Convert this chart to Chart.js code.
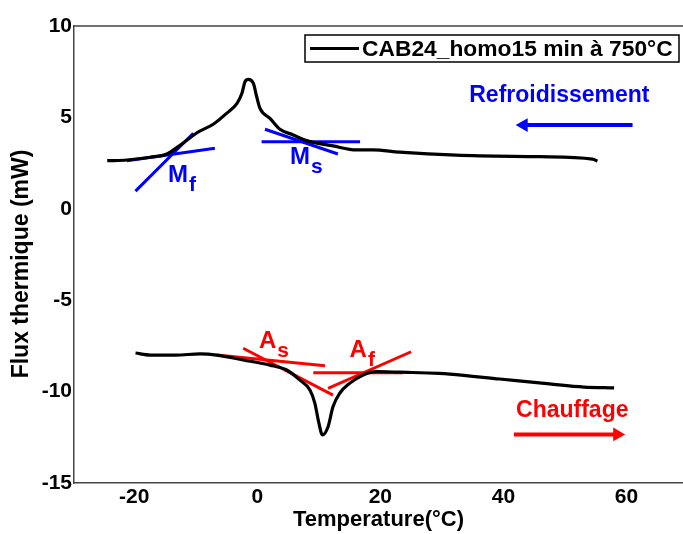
<!DOCTYPE html>
<html>
<head>
<meta charset="utf-8">
<script src="https://cdn.jsdelivr.net/npm/chart.js@4/dist/chart.umd.min.js"></script>
<style>
html,body{margin:0;padding:0;background:#fff;}
#wrap{width:683px;height:534px;position:relative;}
</style>
</head>
<body>
<div id="wrap"><canvas id="c" width="683" height="534"></canvas></div>
<script>
// ---- data ----
const seriesLabel = "CAB24_homo15 min à 750°C";
// cooling curve (Refroidissement)
const coolT = [-24.4,-21.2,-17.4,-14.7,-12.5,-9.8,-7.1,-5.0,-3.3,-2.5,-2.0,-1.46,-0.65,-0.1,0.44,2.06,3.68,5.84,8.01,12.3,16.1,18.8,23.1,32.3,45.9,54.5,55.3];
const coolF = [2.63,2.67,2.82,3.0,3.49,4.16,4.64,5.22,5.77,6.32,6.95,7.08,6.87,6.13,5.49,4.95,4.35,4.04,3.73,3.44,3.22,3.22,3.1,2.94,2.85,2.72,2.61];
// heating curve (Chauffage)
const heatT = [-19.8,-17.4,-13.3,-9.3,-6.6,-2.3,2.06,4.77,6.93,8.55,9.36,9.9,10.6,11.5,12.3,13.4,15.0,17.2,19.4,23.1,29.6,31.3,39.4,47.5,53.1,58.0];
const heatF = [-7.89,-8.0,-8.0,-7.94,-8.0,-8.27,-8.55,-8.82,-9.37,-9.91,-10.64,-11.55,-12.37,-11.92,-10.83,-10.09,-9.55,-9.09,-8.91,-8.94,-9.0,-9.04,-9.31,-9.58,-9.75,-9.8];
// tangent construction lines [x0,x1], [y0,y1]
const mfSteepT = [-19.8,-10.4], mfSteepF = [0.97,4.13];
const mfFlatT  = [-21.2,-6.9],  mfFlatF  = [2.63,3.31];
const msFlatT  = [0.7,16.7],    msFlatF  = [3.67,3.67];
const msSlopeT = [1.25,13.1],   msSlopeF = [4.35,3.0];
const asFlatT  = [-6.6,11.0],   asFlatF  = [-8.0,-8.58];
const asSteepT = [-2.3,12.3],   asSteepF = [-7.63,-10.19];
const afFlatT  = [9.1,23.7],    afFlatF  = [-8.97,-8.97];
const afSteepT = [11.5,25.0],   afSteepF = [-9.82,-7.82];
// direction arrows
const coolArrowT = [61.0,43.3], coolArrowF = [4.58,4.58];
const heatArrowT = [41.7,58.5], heatArrowF = [-12.34,-12.34];
// axis ticks
const xTicks = [-20,0,20,40,60];
const yTicks = [-15,-10,-5,0,5,10];
// annotation texts
const annotMain = ["M","M","A","A"];
const annotSub  = ["f","s","s","f"];
const annotX    = [-14.5,5.3,0.28,15.0];
const annotY    = [1.47,2.45,-7.61,-8.11];
const annotColor= ["#0000ff","#0000ff","#ff0000","#ff0000"];
const dirText   = ["Refroidissement","Chauffage"];
const dirX      = [49.1,51.2];
const dirY      = [5.86,-11.39];
const dirColor  = ["#0000ff","#ff0000"];
const yTitle = "Flux thermique (mW)";
const xTitle = "Temperature(°C)";

const BLUE="#0000ff", RED="#ff0000";
const pts=(xs,ys)=>xs.map((x,i)=>({x:x,y:ys[i]}));
const seg=(xs,ys,color,w)=>({data:pts(xs,ys),borderColor:color,backgroundColor:color,borderWidth:w||3,pointRadius:0,tension:0,showLine:true});

const FONT="'Liberation Sans', Arial, sans-serif";

const decor = {
  id:'decor',
  afterDatasetsDraw(chart){
    const ctx=chart.ctx, a=chart.chartArea, xs=chart.scales.x, ys=chart.scales.y;
    ctx.save();
    // top frame line
    ctx.strokeStyle='#444'; ctx.lineWidth=1.5;
    ctx.beginPath(); ctx.moveTo(a.left,a.top); ctx.lineTo(683,a.top); ctx.stroke();
    // y title
    ctx.save();
    ctx.translate(22,264); ctx.rotate(-Math.PI/2);
    ctx.fillStyle='#000'; ctx.font='bold 23px '+FONT;
    ctx.textAlign='center'; ctx.textBaseline='middle';
    ctx.fillText(yTitle,0,0);
    ctx.restore();
    // annotation labels with subscripts
    ctx.textAlign='left'; ctx.textBaseline='alphabetic';
    for(let i=0;i<annotMain.length;i++){
      const px=xs.getPixelForValue(annotX[i]), py=ys.getPixelForValue(annotY[i]);
      ctx.fillStyle=annotColor[i];
      ctx.font='bold 24px '+FONT;
      ctx.fillText(annotMain[i],px,py);
      const w=ctx.measureText(annotMain[i]).width;
      ctx.font='bold 21px '+FONT;
      ctx.fillText(annotSub[i],px+w+1,py+9);
    }
    // direction texts
    ctx.textAlign='center';
    ctx.font='bold 23px '+FONT;
    for(let i=0;i<dirText.length;i++){
      ctx.fillStyle=dirColor[i];
      ctx.fillText(dirText[i],xs.getPixelForValue(dirX[i]),ys.getPixelForValue(dirY[i]));
    }
    // legend box
    const bx=305,by=35,bw=374,bh=27;
    ctx.fillStyle='#fff'; ctx.fillRect(bx,by,bw,bh);
    ctx.strokeStyle='#000'; ctx.lineWidth=1.5; ctx.strokeRect(bx,by,bw,bh);
    ctx.strokeStyle='#000'; ctx.lineWidth=3;
    ctx.beginPath(); ctx.moveTo(310,by+bh/2); ctx.lineTo(359,by+bh/2); ctx.stroke();
    ctx.fillStyle='#000'; ctx.textAlign='left'; ctx.textBaseline='middle';
    ctx.font='bold 22.8px '+FONT;
    ctx.fillText(seriesLabel,362,by+bh/2+1);
    ctx.restore();
  }
};

new Chart(document.getElementById('c'),{
  type:'line',
  data:{datasets:[
    {label:seriesLabel,data:pts(coolT,coolF),borderColor:'#000',borderWidth:3.2,pointRadius:0,cubicInterpolationMode:'monotone'},
    {label:seriesLabel,data:pts(heatT,heatF),borderColor:'#000',borderWidth:3.2,pointRadius:0,cubicInterpolationMode:'monotone'},
    seg(mfSteepT,mfSteepF,BLUE), seg(mfFlatT,mfFlatF,BLUE),
    seg(msFlatT,msFlatF,BLUE), seg(msSlopeT,msSlopeF,BLUE),
    seg(asFlatT,asFlatF,RED), seg(asSteepT,asSteepF,RED),
    seg(afFlatT,afFlatF,RED), seg(afSteepT,afSteepF,RED),
    Object.assign(seg(coolArrowT,coolArrowF,BLUE,4),{pointRadius:[0,8],pointStyle:'triangle',rotation:-90,pointBorderWidth:0}),
    Object.assign(seg(heatArrowT,heatArrowF,RED,4),{pointRadius:[0,8],pointStyle:'triangle',rotation:90,pointBorderWidth:0})
  ]},
  options:{
    responsive:false, animation:false, parsing:true,
    layout:{autoPadding:false,padding:{top:26,right:0,left:0,bottom:0}},
    plugins:{legend:{display:false},tooltip:{enabled:false},title:{display:false}},
    scales:{
      x:{type:'linear',min:-29.8,max:69.2,
        afterBuildTicks:s=>{s.ticks=xTicks.map(v=>({value:v}));},
        afterFit:s=>{s.height=51;s.paddingLeft=0;s.paddingRight=0;},
        grid:{display:false,drawTicks:false},
        border:{display:true,color:'#444',width:1.5},
        ticks:{color:'#000',padding:2,font:{family:FONT,size:21,weight:'bold'},maxRotation:0},
        title:{display:true,text:xTitle,color:'#000',font:{family:FONT,size:22,weight:'bold'},padding:{top:0,bottom:1}}
      },
      y:{type:'linear',min:-15,max:10,
        afterBuildTicks:s=>{s.ticks=yTicks.map(v=>({value:v}));},
        afterFit:s=>{s.width=74;s.paddingTop=0;s.paddingBottom=0;},
        grid:{display:false,drawTicks:false},
        border:{display:true,color:'#444',width:1.5},
        ticks:{color:'#000',padding:2,font:{family:FONT,size:21,weight:'bold'}},
        title:{display:false}
      }
    }
  },
  plugins:[decor]
});
</script>
</body>
</html>
